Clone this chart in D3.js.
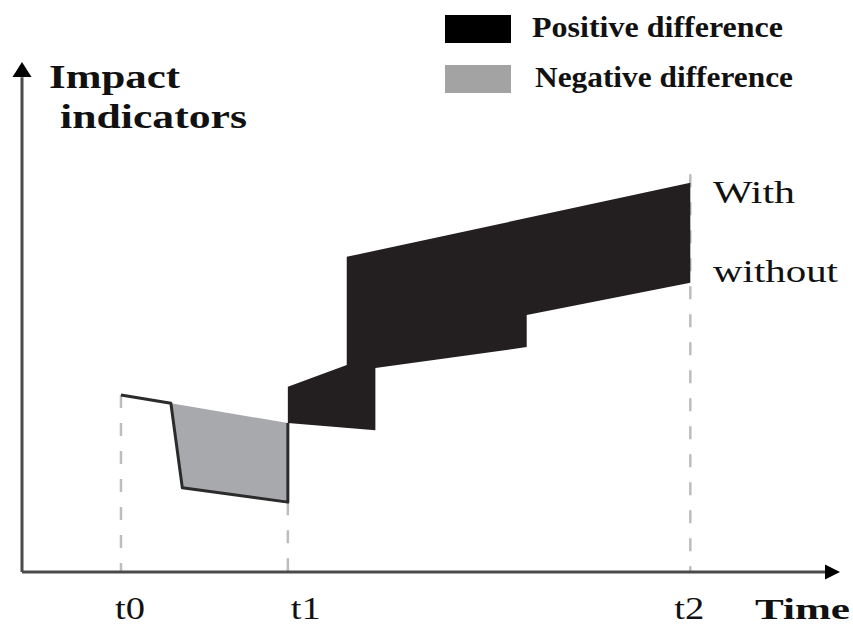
<!DOCTYPE html>
<html>
<head>
<meta charset="utf-8">
<script src="https://cdn.jsdelivr.net/npm/d3@7"></script>
<style>
  body { margin: 0; background: #fff; }
  text { font-family: "Liberation Serif", "Times New Roman", serif; fill: #111; }
</style>
</head>
<body>
<div id="chart"></div>
<script>
// Time positions (arbitrary units 0-100) and impact values (0-100)
const tickLabels = ["t0", "t1", "t2"];
const tickTimes = [12.1, 32.5, 81.7];
const dashTops = [34.7, 13.7, 78];

const withTime = [12.1, 18.2, 19.6, 32.5, 32.5, 39.7, 39.7, 81.7];
const withValue = [34.7, 33.1, 16.5, 13.7, 36.3, 40.6, 61.8, 76.3];
const withoutTime = [12.1, 18.2, 32.5, 43.2, 43.2, 61.7, 61.7, 81.7];
const withoutValue = [34.7, 33.1, 29.2, 27.8, 40.0, 44.1, 50.4, 56.7];

const legendLabels = ["Positive difference", "Negative difference"];
const legendColors = ["#000", "#a3a3a3"];

const width = 853, height = 626;

const svg = d3.select("#chart").append("svg")
    .attr("width", width)
    .attr("height", height);

const x = d3.scaleLinear().domain([0, 100]).range([22, 840]);
const y = d3.scaleLinear().domain([0, 100]).range([572, 62]);

const withPts = withTime.map((t, i) => [t, withValue[i]]);
const withoutPts = withoutTime.map((t, i) => [t, withoutValue[i]]);

const line = d3.line().x(d => x(d[0])).y(d => y(d[1]));

// dashed guides
svg.selectAll("line.guide")
    .data(tickTimes)
    .join("line")
    .attr("class", "guide")
    .attr("x1", d => x(d)).attr("x2", d => x(d))
    .attr("y1", (d, i) => y(dashTops[i]))
    .attr("y2", y(0))
    .attr("stroke", "#bdbdbd")
    .attr("stroke-width", 2.5)
    .attr("stroke-dasharray", "13,15");

// negative difference (grey)
const greyPoly = [withPts[1], withPts[2], withPts[3], withoutPts[2]];
svg.append("path")
    .attr("d", line(greyPoly) + "Z")
    .attr("fill", "#a7a9ac");

// positive difference (black)
const blackPoly = withPts.slice(4).concat(withoutPts.slice(2).reverse());
svg.append("path")
    .attr("d", line(blackPoly) + "Z")
    .attr("fill", "#231f20");

// outline of with-line before t1
svg.append("path")
    .attr("d", line(withPts.slice(0, 4).concat([withoutPts[2]])))
    .attr("fill", "none")
    .attr("stroke", "#2b2b2b")
    .attr("stroke-width", 3)
    .attr("stroke-linejoin", "round");

// axes
svg.append("line")
    .attr("x1", x(0)).attr("x2", x(0))
    .attr("y1", y(0)).attr("y2", y(97))
    .attr("stroke", "#4a4a4a").attr("stroke-width", 3);
svg.append("line")
    .attr("x1", x(0)).attr("x2", x(98.5))
    .attr("y1", y(0)).attr("y2", y(0))
    .attr("stroke", "#4a4a4a").attr("stroke-width", 3);
svg.append("path")
    .attr("d", `M${x(0)},${y(100)} L${x(0) - 9.5},${y(100) + 15} L${x(0) + 9.5},${y(100) + 15} Z`)
    .attr("fill", "#000");
svg.append("path")
    .attr("d", `M${x(100)},${y(0)} L${x(100) - 15},${y(0) - 7.5} L${x(100) - 15},${y(0) + 7.5} Z`)
    .attr("fill", "#000");

// tick labels
const tickShift = [9, 18, -1];
svg.selectAll("text.tick")
    .data(tickLabels)
    .join("text")
    .attr("class", "tick")
    .attr("x", (d, i) => x(tickTimes[i]) + tickShift[i])
    .attr("y", 619)
    .attr("text-anchor", "middle")
    .attr("textLength", 30).attr("lengthAdjust", "spacingAndGlyphs")
    .style("font-size", "31px")
    .text(d => d);

svg.append("text")
    .attr("x", 755).attr("y", 619)
    .attr("textLength", 95).attr("lengthAdjust", "spacingAndGlyphs")
    .style("font-size", "30px").style("font-weight", "bold")
    .text("Time");

// y label
svg.append("text")
    .attr("x", 49).attr("y", 88)
    .attr("textLength", 131).attr("lengthAdjust", "spacingAndGlyphs")
    .style("font-size", "34px").style("font-weight", "bold")
    .text("Impact");
svg.append("text")
    .attr("x", 60).attr("y", 128)
    .attr("textLength", 187).attr("lengthAdjust", "spacingAndGlyphs")
    .style("font-size", "34px").style("font-weight", "bold")
    .text("indicators");

// series labels
svg.append("text")
    .attr("x", 713).attr("y", 203)
    .attr("textLength", 82).attr("lengthAdjust", "spacingAndGlyphs")
    .style("font-size", "31px")
    .text("With");
svg.append("text")
    .attr("x", 713).attr("y", 282)
    .attr("textLength", 125).attr("lengthAdjust", "spacingAndGlyphs")
    .style("font-size", "31px")
    .text("without");

// legend
const legend = svg.append("g");
legend.selectAll("rect")
    .data(legendColors)
    .join("rect")
    .attr("x", 445)
    .attr("y", (d, i) => 15 + i * 50)
    .attr("width", 66)
    .attr("height", 28)
    .attr("fill", d => d);
const legendLen = [251, 258];
legend.selectAll("text")
    .data(legendLabels)
    .join("text")
    .attr("x", (d, i) => 532 + i * 3)
    .attr("y", (d, i) => 37 + i * 50)
    .attr("textLength", (d, i) => legendLen[i])
    .attr("lengthAdjust", "spacingAndGlyphs")
    .style("font-size", "29px")
    .style("font-weight", "bold")
    .text(d => d);
</script>
</body>
</html>
